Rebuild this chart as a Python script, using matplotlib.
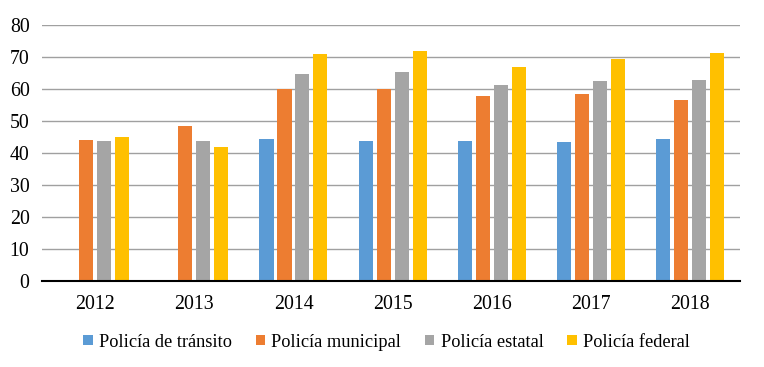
import numpy as np
import matplotlib
matplotlib.use("Agg")
import matplotlib.pyplot as plt

years = ["2012", "2013", "2014", "2015", "2016", "2017", "2018"]
transito = [np.nan, np.nan, 44.4, 43.9, 43.9, 43.3, 44.4]
municipal = [44.1, 48.5, 59.9, 59.9, 57.9, 58.3, 56.6]
estatal = [43.8, 43.9, 64.6, 65.3, 61.3, 62.5, 62.8]
federal = [44.9, 41.9, 70.8, 72.0, 67.0, 69.4, 71.1]

series = [
    ("Policía de tránsito", transito, "#5B9BD5"),
    ("Policía municipal", municipal, "#ED7D31"),
    ("Policía estatal", estatal, "#A5A5A5"),
    ("Policía federal", federal, "#FFC000"),
]

plt.rcParams['font.family'] = ['Liberation Serif', 'DejaVu Serif']

fig = plt.figure(figsize=(7.64, 3.67), dpi=100)
ax = fig.add_axes([0.055, 0.234, 0.9136, 0.698])

x = np.arange(len(years))
step = 0.181
for i, (name, vals, col) in enumerate(series):
    ax.bar(x + (i - 1.5) * step, vals, width=0.142, color=col, label=name, zorder=3)

ax.set_xlim(-0.534, len(years) - 0.5)
ax.set_ylim(0, 80)
ax.set_yticks(range(0, 81, 10))
ax.set_xticks(x)
ax.set_xticklabels(years)
ax.yaxis.grid(True, color="#A0A0A0", linewidth=1.0, zorder=0)
ax.set_axisbelow(True)
for s in ["left", "right", "top"]:
    ax.spines[s].set_visible(False)
ax.spines["bottom"].set_color("black")
ax.spines["bottom"].set_linewidth(1.5)
ax.spines["bottom"].set_zorder(4)
ax.tick_params(axis="both", length=0, labelsize=14.3, colors="black")
ax.tick_params(axis="x", pad=10)
ax.tick_params(axis="y", pad=9)

fig.legend(loc="center", bbox_to_anchor=(0.506, 0.068), ncol=4, frameon=False,
           fontsize=13.2, handlelength=0.5, handleheight=0.5, handletextpad=0.35,
           columnspacing=1.3)

fig.savefig("out.png", dpi=100)
